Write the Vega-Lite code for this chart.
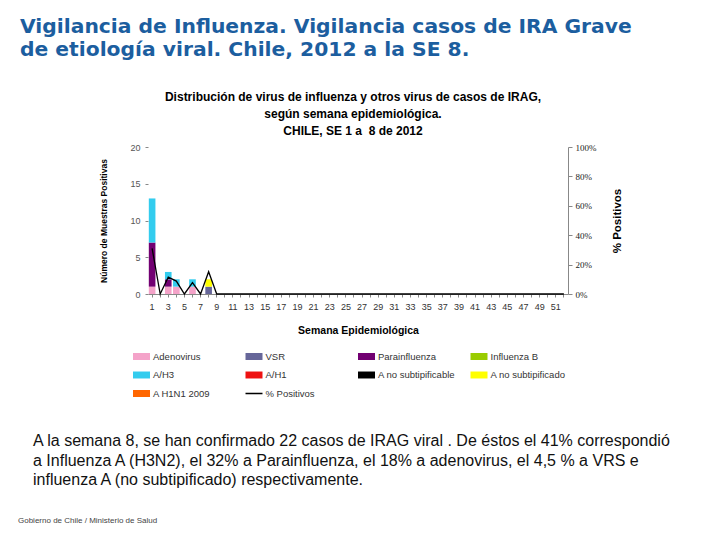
{
  "$schema": "https://vega.github.io/schema/vega-lite/v6.json",
  "background": "white",
  "padding": {"left": 18, "top": 16, "right": 5, "bottom": 5},
  "datasets": {
    "virus": [
      {"semana": 1, "serie": "Adenovirus", "orden": 1, "casos": 1},
      {"semana": 1, "serie": "Parainfluenza", "orden": 3, "casos": 6},
      {"semana": 1, "serie": "A/H3", "orden": 5, "casos": 6},
      {"semana": 3, "serie": "Adenovirus", "orden": 1, "casos": 1},
      {"semana": 3, "serie": "Parainfluenza", "orden": 3, "casos": 1},
      {"semana": 3, "serie": "A/H3", "orden": 5, "casos": 1},
      {"semana": 4, "serie": "Adenovirus", "orden": 1, "casos": 1},
      {"semana": 4, "serie": "A/H3", "orden": 5, "casos": 1},
      {"semana": 6, "serie": "Adenovirus", "orden": 1, "casos": 1},
      {"semana": 6, "serie": "A/H3", "orden": 5, "casos": 1},
      {"semana": 8, "serie": "VSR", "orden": 2, "casos": 1},
      {"semana": 8, "serie": "A no subtipificado", "orden": 8, "casos": 1}
    ],
    "positivos": [
      {"semana": 1, "serie": "% Positivos", "pct": 0.31},
      {"semana": 2, "serie": "% Positivos", "pct": 0},
      {"semana": 3, "serie": "% Positivos", "pct": 0.115},
      {"semana": 4, "serie": "% Positivos", "pct": 0.088},
      {"semana": 5, "serie": "% Positivos", "pct": 0},
      {"semana": 6, "serie": "% Positivos", "pct": 0.077},
      {"semana": 7, "serie": "% Positivos", "pct": 0},
      {"semana": 8, "serie": "% Positivos", "pct": 0.152},
      {"semana": 9, "serie": "% Positivos", "pct": 0},
      {"semana": 10, "serie": "% Positivos", "pct": 0},
      {"semana": 11, "serie": "% Positivos", "pct": 0},
      {"semana": 12, "serie": "% Positivos", "pct": 0},
      {"semana": 13, "serie": "% Positivos", "pct": 0},
      {"semana": 14, "serie": "% Positivos", "pct": 0},
      {"semana": 15, "serie": "% Positivos", "pct": 0},
      {"semana": 16, "serie": "% Positivos", "pct": 0},
      {"semana": 17, "serie": "% Positivos", "pct": 0},
      {"semana": 18, "serie": "% Positivos", "pct": 0},
      {"semana": 19, "serie": "% Positivos", "pct": 0},
      {"semana": 20, "serie": "% Positivos", "pct": 0},
      {"semana": 21, "serie": "% Positivos", "pct": 0},
      {"semana": 22, "serie": "% Positivos", "pct": 0},
      {"semana": 23, "serie": "% Positivos", "pct": 0},
      {"semana": 24, "serie": "% Positivos", "pct": 0},
      {"semana": 25, "serie": "% Positivos", "pct": 0},
      {"semana": 26, "serie": "% Positivos", "pct": 0},
      {"semana": 27, "serie": "% Positivos", "pct": 0},
      {"semana": 28, "serie": "% Positivos", "pct": 0},
      {"semana": 29, "serie": "% Positivos", "pct": 0},
      {"semana": 30, "serie": "% Positivos", "pct": 0},
      {"semana": 31, "serie": "% Positivos", "pct": 0},
      {"semana": 32, "serie": "% Positivos", "pct": 0},
      {"semana": 33, "serie": "% Positivos", "pct": 0},
      {"semana": 34, "serie": "% Positivos", "pct": 0},
      {"semana": 35, "serie": "% Positivos", "pct": 0},
      {"semana": 36, "serie": "% Positivos", "pct": 0},
      {"semana": 37, "serie": "% Positivos", "pct": 0},
      {"semana": 38, "serie": "% Positivos", "pct": 0},
      {"semana": 39, "serie": "% Positivos", "pct": 0},
      {"semana": 40, "serie": "% Positivos", "pct": 0},
      {"semana": 41, "serie": "% Positivos", "pct": 0},
      {"semana": 42, "serie": "% Positivos", "pct": 0},
      {"semana": 43, "serie": "% Positivos", "pct": 0},
      {"semana": 44, "serie": "% Positivos", "pct": 0},
      {"semana": 45, "serie": "% Positivos", "pct": 0},
      {"semana": 46, "serie": "% Positivos", "pct": 0},
      {"semana": 47, "serie": "% Positivos", "pct": 0},
      {"semana": 48, "serie": "% Positivos", "pct": 0},
      {"semana": 49, "serie": "% Positivos", "pct": 0},
      {"semana": 50, "serie": "% Positivos", "pct": 0},
      {"semana": 51, "serie": "% Positivos", "pct": 0},
      {"semana": 52, "serie": "% Positivos", "pct": 0}
    ]
  },
  "title": {
    "text": ["\u2005Vigilancia de Influenza. Vigilancia casos de IRA Grave", "de etiología viral. Chile, 2012 a la SE 8."],
    "anchor": "start",
    "frame": "group",
    "dx": -128,
    "offset": 31,
    "font": "DejaVu Sans",
    "fontSize": 20.3,
    "fontWeight": "bold",
    "color": "#1C5E9F",
    "lineHeight": 23
  },
  "bounds": "flush",
  "spacing": 10,
  "vconcat": [
    {
      "width": 420,
      "height": 147,
      "title": {
        "text": ["Distribución de virus de influenza y otros virus de casos de IRAG,", "según semana epidemiológica.", "CHILE, SE 1 a \u00a08 de 2012"],
        "anchor": "middle",
        "frame": "group",
        "dx": -5,
        "offset": 5,
        "font": "Liberation Sans",
        "fontSize": 12,
        "fontWeight": "bold",
        "color": "#000000",
        "lineHeight": 17
      },
      "layer": [
        {
          "data": {"name": "virus"},
          "mark": {"type": "bar"},
          "encoding": {
            "x": {
              "field": "semana",
              "type": "ordinal",
              "scale": {"paddingInner": 0.18, "paddingOuter": 0.1},
              "axis": {
                "title": "Semana Epidemiológica",
                "titleFont": "Liberation Sans",
                "titleFontSize": 10.5,
                "titleFontWeight": "bold",
                "titleColor": "#000000",
                "titlePadding": 14,
                "labelAngle": 0,
                "labelExpr": "datum.value % 2 == 1 ? datum.label : ''",
                "labelOverlap": false,
                "labelFont": "Liberation Sans",
                "labelFontSize": 9,
                "labelColor": "#333333",
                "labelPadding": 5,
                "domainColor": "#888888",
                "tickColor": "#888888",
                "tickSize": 3
              }
            },
            "y": {
              "field": "casos",
              "type": "quantitative",
              "stack": "zero",
              "scale": {"domain": [0, 20]},
              "axis": {
                "orient": "left",
                "values": [0, 5, 10, 15, 20],
                "title": "Número de Muestras Positivas",
                "titleFont": "Liberation Sans",
                "titleFontSize": 8.5,
                "titleFontWeight": "bold",
                "titleColor": "#000000",
                "titlePadding": 21,
                "domain": false,
                "grid": false,
                "tickColor": "#888888",
                "tickSize": 3,
                "labelFont": "Liberation Sans",
                "labelFontSize": 9,
                "labelColor": "#555555",
                "labelPadding": 5
              }
            },
            "color": {
              "field": "serie",
              "type": "nominal",
              "scale": {
                "domain": ["Adenovirus", "VSR", "Parainfluenza", "Influenza  B", "A/H3", "A/H1", "A no subtipificable", "A no subtipificado", "A H1N1 2009", "% Positivos"],
                "range": ["#F4A3C9", "#666699", "#720072", "#99CC00", "#33CCEE", "#EE1111", "#000000", "#FFFF00", "#FF6600", "#000000"]
              },
              "legend": {
                "orient": "none",
                "legendX": -15,
                "legendY": 201,
                "direction": "horizontal",
                "columns": 4,
                "title": null,
                "gridAlign": "all",
                "columnPadding": 14.5,
                "rowPadding": 5.5,
                "symbolSize": 289,
                "symbolType": "square",
                "symbolStrokeWidth": 0,
                "labelFont": "Liberation Sans",
                "labelFontSize": 9.5,
                "labelColor": "#333333",
                "labelOffset": 3,
                "encode": {
                  "symbols": {
                    "update": {
                      "shape": {"signal": "datum.value === '% Positivos' ? 'M-1,-0.09H1V0.09H-1Z' : 'M-1,-0.41H1V0.41H-1Z'"},
                      "fill": {"scale": "color", "field": "value"},
                      "strokeWidth": {"value": 0},
                      "opacity": {"value": 1},
                      "size": {"value": 289}
                    }
                  }
                }
              }
            },
            "order": {"field": "orden", "type": "quantitative"}
          }
        },
        {
          "data": {"name": "positivos"},
          "mark": {"type": "line", "strokeWidth": 1.3},
          "encoding": {
            "x": {"field": "semana", "type": "ordinal"},
            "y": {
              "field": "pct",
              "type": "quantitative",
              "scale": {"domain": [0, 1]},
              "axis": {
                "orient": "right",
                "values": [0, 0.2, 0.4, 0.6, 0.8, 1],
                "format": ".0%",
                "title": "% Positivos",
                "titleFont": "Liberation Sans",
                "titleFontSize": 11.5,
                "titleFontWeight": "bold",
                "titleColor": "#000000",
                "titleAngle": 270,
                "titlePadding": 27,
                "grid": false,
                "domainColor": "#888888",
                "tickColor": "#888888",
                "tickSize": 4,
                "labelFont": "Liberation Serif",
                "labelFontSize": 9,
                "labelColor": "#222222",
                "labelPadding": 3
              }
            },
            "color": {"field": "serie", "type": "nominal"}
          }
        }
      ],
      "resolve": {"scale": {"y": "independent"}}
    },
    {
      "width": 420,
      "height": 127,
      "data": {"values": [{"t": ""}]},
      "mark": {"type": "text"},
      "encoding": {"text": {"field": "t"}},
      "title": {
        "text": ["A la semana 8, se han confirmado  22 casos de IRAG viral . De éstos el 41% correspondió", "a Influenza A (H3N2), el 32% a Parainfluenza, el 18% a adenovirus, el 4,5 % a VRS e", "influenza A (no subtipificado) respectivamente."],
        "orient": "bottom",
        "anchor": "start",
        "frame": "group",
        "dx": -115,
        "offset": 2,
        "font": "Liberation Sans",
        "fontSize": 16,
        "fontWeight": "normal",
        "color": "#111111",
        "lineHeight": 19.5
      }
    },
    {
      "width": 420,
      "height": 74,
      "data": {"values": [{"t": ""}]},
      "mark": {"type": "text"},
      "encoding": {"text": {"field": "t"}},
      "title": {
        "text": "Gobierno de Chile / Ministerio de Salud",
        "orient": "bottom",
        "anchor": "start",
        "frame": "group",
        "dx": -130,
        "offset": 2,
        "font": "Liberation Sans",
        "fontSize": 8,
        "fontWeight": "normal",
        "color": "#444444"
      }
    }
  ],
  "config": {
    "view": {"stroke": null},
    "font": "Liberation Sans"
  }
}
